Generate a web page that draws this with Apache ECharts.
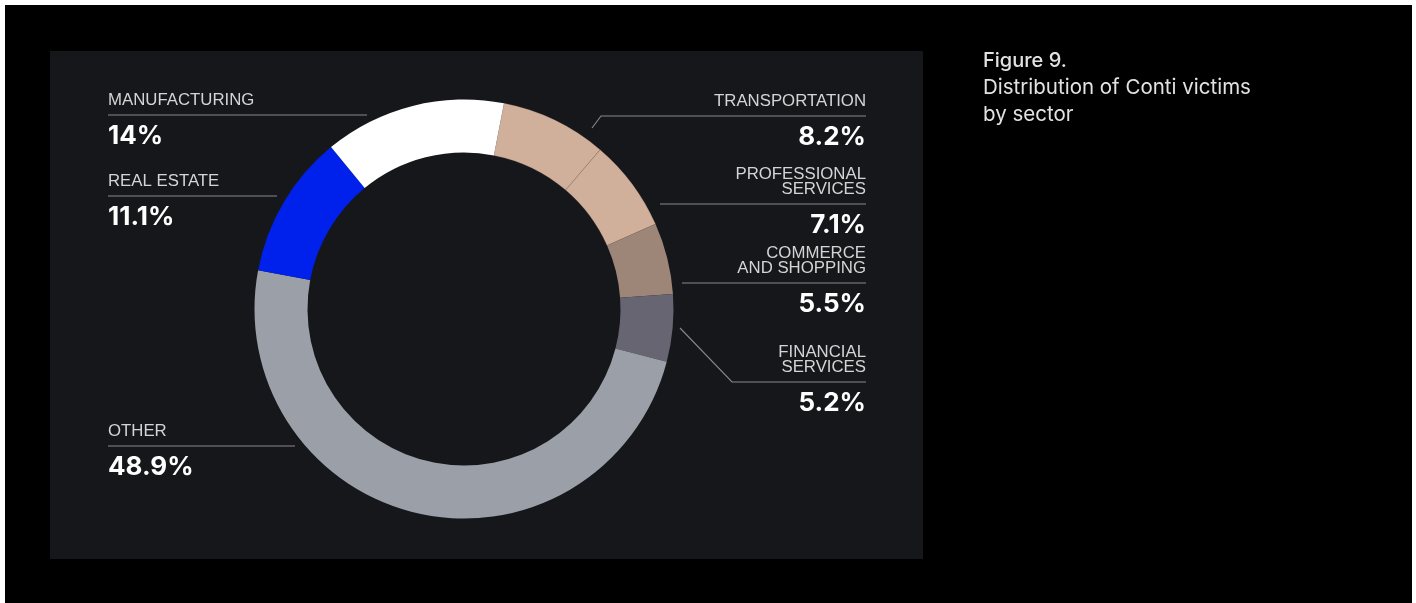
<!DOCTYPE html>
<html>
<head>
<meta charset="utf-8">
<title>Distribution of Conti victims by sector</title>
<script src="https://cdn.jsdelivr.net/npm/echarts@6/dist/echarts.min.js"></script>
<style>
  html, body { margin: 0; padding: 0; background: #ffffff; }
  #chart { width: 1416px; height: 603px; }
</style>
</head>
<body>
<div id="chart"></div>
<script>
// Sector shares of Conti victims (percent), clockwise from the top of the ring
const sectors = ['TRANSPORTATION', 'PROFESSIONAL\nSERVICES', 'COMMERCE\nAND SHOPPING', 'FINANCIAL\nSERVICES', 'OTHER', 'REAL ESTATE', 'MANUFACTURING'];
const shares = [8.2, 7.1, 5.5, 5.2, 48.9, 11.1, 14];

// Slice fills, in the same order as the sectors
const sectorColors = ['#d0af9b', '#d0af9b', '#9d8678', '#676571', '#9ba0a8', '#0021ec', '#ffffff'];

// Label placement: which side the text sits on and the leader line path (pixels)
const labelGuides = [
  { side: 'right', path: [[592, 128], [601, 116], [866, 116]] },
  { side: 'right', path: [[660, 204], [660, 204], [866, 204]] },
  { side: 'right', path: [[682, 283], [682, 283], [866, 283]] },
  { side: 'right', path: [[680, 328], [732, 382], [866, 382]] },
  { side: 'left',  path: [[295, 446], [295, 446], [108, 446]] },
  { side: 'left',  path: [[277, 196], [277, 196], [108, 196]] },
  { side: 'left',  path: [[367, 115], [367, 115], [108, 115]] }
];

const NAME_LINE = 15;

function labelText(params) {
  const nameRows = params.name.split('\n').map(function (s) { return '{n|' + s + '}'; });
  return nameRows.join('\n') + '\n{g| }\n{v|' + params.value + '%}';
}

const chart = echarts.init(document.getElementById('chart'), null, { renderer: 'canvas' });

chart.setOption({
  backgroundColor: '#ffffff',
  animation: false,
  graphic: [
    { type: 'rect', z: -20, shape: { x: 5, y: 5, width: 1407, height: 598 }, style: { fill: '#000000' }, silent: true },
    { type: 'rect', z: -10, shape: { x: 50, y: 51, width: 873, height: 508 }, style: { fill: '#16171b' }, silent: true }
  ],
  title: {
    left: 983,
    top: 47,
    padding: 0,
    text: '{a|Figure 9.}\n{b|Distribution of Conti victims}\n{b|by sector}',
    textStyle: {
      rich: {
        a: { fontFamily: 'Inter', fontWeight: 500, fontSize: 20, lineHeight: 27, color: '#e2e2e2' },
        b: { fontFamily: 'Inter', fontWeight: 400, fontSize: 20.5, lineHeight: 27, color: '#e2e2e2' }
      }
    }
  },
  series: [{
    type: 'pie',
    center: [464, 309],
    radius: [156.5, 209.5],
    startAngle: 79,
    clockwise: true,
    avoidLabelOverlap: false,
    emphasis: { disabled: true },
    silent: true,
    data: sectors.map(function (name, i) {
      const item = { name: name, value: shares[i], itemStyle: { color: sectorColors[i] } };
      if (i < 2) {
        item.itemStyle.borderColor = 'rgba(130,100,85,0.35)';
        item.itemStyle.borderWidth = 0.6;
      }
      return item;
    }),
    label: {
      show: true,
      position: 'outside',
      formatter: labelText,
      rich: {
        n: { fontFamily: 'Liberation Sans', fontSize: 16.8, lineHeight: NAME_LINE, color: '#d4d4d4' },
        g: { fontSize: 1, lineHeight: 15.5 },
        v: { fontFamily: 'Inter', fontWeight: 700, fontSize: 26, lineHeight: 26, color: '#ffffff' }
      }
    },
    labelLine: {
      show: true,
      length: 10,
      length2: 10,
      lineStyle: { color: '#88898e', width: 1.1 }
    },
    labelLayout: function (params) {
      const g = labelGuides[params.dataIndex];
      const lineY = g.path[g.path.length - 1][1];
      const rows = sectors[params.dataIndex].split('\n').length;
      return {
        x: g.side === 'left' ? 108 : 866,
        y: lineY - 7.5 - NAME_LINE * rows,
        align: g.side,
        verticalAlign: 'top',
        labelLinePoints: g.path
      };
    }
  }]
});
</script>
</body>
</html>
